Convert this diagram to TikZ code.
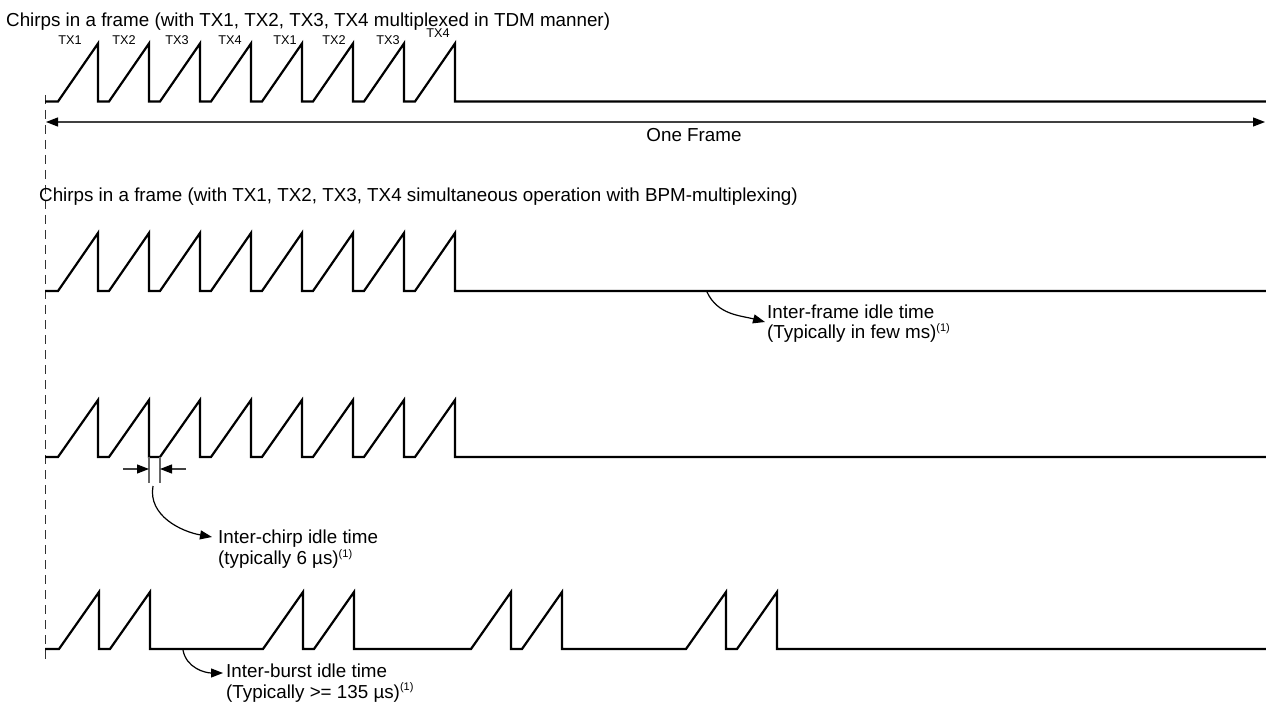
\documentclass[tikz,border=0pt]{standalone}
\usepackage{fontspec}
\setmainfont{Liberation Sans}
\usetikzlibrary{arrows.meta}
\newcommand{\fnref}{\raisebox{7.5pt}{\fontsize{11}{11}\selectfont(1)}}
\begin{document}
\begin{tikzpicture}[x=1pt,y=-1pt,
  wave/.style={line width=2.2pt, black},
  dimline/.style={line width=1.2pt, black!75},
  tipend/.style={-{Triangle[length=12pt,width=9pt,color=black]}},
  lbl/.style={font=\fontsize{18.8}{21}\selectfont, inner sep=0pt, anchor=base west},
  txl/.style={font=\fontsize{12.7}{14}\selectfont, inner sep=0pt, anchor=base},
  ]
\useasboundingbox (0,0) rectangle (1266,703);
% dashed reference line
\draw[black!80, line width=1.6pt, dash pattern=on 9pt off 6pt] (45.5,95) -- (45.5,662);

% ---------- Row 1 ----------
\node[lbl] (title1) at (6,26.5) {Chirps in a frame (with TX1, TX2, TX3, TX4 multiplexed in TDM manner)};
\draw[wave] (45,101.5) \foreach \k in {0,...,7}{ -- ({58+51*\k},101.5) -- ({98+51*\k},43.5) -- ({98+51*\k},101.5)} -- (1266,101.5);
\node[txl] (tx1a) at (70,44.5) {TX1};
\node[txl] (tx2a) at (124,44.5) {TX2};
\node[txl] (tx3a) at (177,44.5) {TX3};
\node[txl] (tx4a) at (230,44.5) {TX4};
\node[txl] (tx1b) at (285,44.5) {TX1};
\node[txl] (tx2b) at (334,44.5) {TX2};
\node[txl] (tx3b) at (388,44.5) {TX3};
\node[txl] (tx4b) at (438,38) {TX4};
\coordinate (frL) at (46,122);
\coordinate (frR) at (1265,122);
\draw[dimline, {Triangle[length=12pt,width=9pt,color=black]}-{Triangle[length=12pt,width=9pt,color=black]}] (frL) -- (frR);
\node[font=\fontsize{18.8}{21}\selectfont, inner sep=0pt, anchor=base] (oneframe) at (694,142) {One Frame};

% ---------- Row 2 ----------
\node[lbl] (title2) at (39,201.5) {Chirps in a frame (with TX1, TX2, TX3, TX4 simultaneous operation with BPM-multiplexing)};
\draw[wave] (45,291) \foreach \k in {0,...,7}{ -- ({58+51*\k},291) -- ({98+51*\k},233) -- ({98+51*\k},291)} -- (1266,291);
\coordinate (ifS) at (707,292);
\node[lbl] (ifA) at (767,318) {Inter-frame idle time};
\node[lbl] (ifB) at (767,338.5) {(Typically in few ms)\fnref};
\coordinate (ifT) at (765,322);
\draw[line width=1.2pt, tipend] (ifS) to[out=-65,in=165] (ifT);

% ---------- Row 3 ----------
\draw[wave] (45,457) \foreach \k in {0,...,7}{ -- ({58+51*\k},457) -- ({98+51*\k},400) -- ({98+51*\k},457)} -- (1266,457);
\coordinate (m1t) at (149,457);
\coordinate (m1b) at (149,483);
\coordinate (m2t) at (160,457);
\coordinate (m2b) at (160,483);
\draw[line width=1.2pt, black!60] (m1t) -- (m1b);
\draw[line width=1.2pt, black!60] (m2t) -- (m2b);
\coordinate (aL) at (123,469);
\coordinate (aLt) at (149,469);
\coordinate (aR) at (186,469);
\coordinate (aRt) at (160,469);
\draw[dimline, tipend] (aL) -- (aLt);
\draw[dimline, tipend] (aR) -- (aRt);
\coordinate (icS) at (153,486);
\node[lbl] (icA) at (218,543) {Inter-chirp idle time};
\node[lbl] (icB) at (218,564.5) {(typically 6 µs)\fnref};
\coordinate (icT) at (212,537);
\draw[line width=1.2pt, tipend] (icS) to[out=-100,in=170] (icT);

% ---------- Row 4 ----------
\draw[wave] (45,649) \foreach \s in {59,263,471,686}{ -- (\s,649) -- ({\s+40},592) -- ({\s+40},649) -- ({\s+51},649) -- ({\s+91},592) -- ({\s+91},649)} -- (1266,649);
\coordinate (ibS) at (183,650);
\node[lbl] (ibA) at (226,677) {Inter-burst idle time};
\node[lbl] (ibB) at (226,698) {(Typically >= 135 µs)\fnref};
\coordinate (ibT) at (223,673);
\draw[line width=1.2pt, tipend] (ibS) to[out=-80,in=180] (ibT);
\end{tikzpicture}
\end{document}
